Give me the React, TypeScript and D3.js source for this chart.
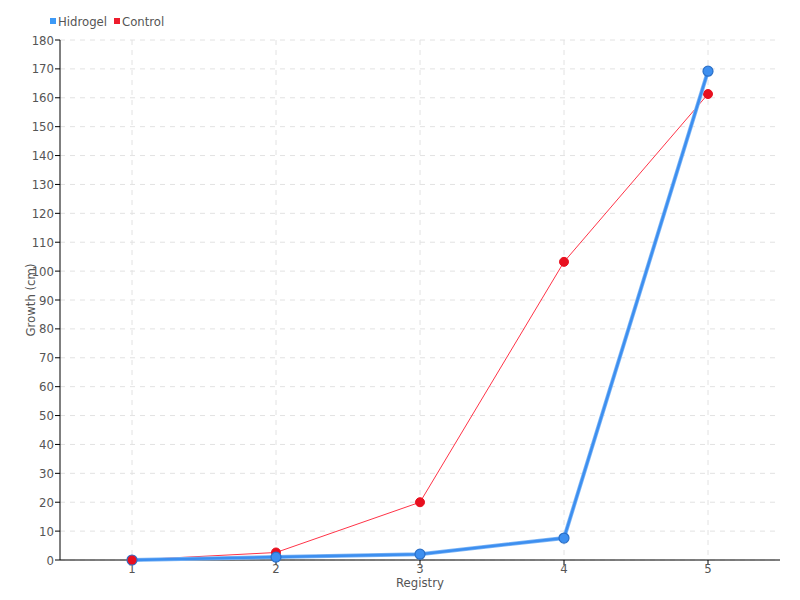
import React from "react";
import * as d3 from "d3";

const registry = [1, 2, 3, 4, 5];
const hidrogel = [0, 1, 2, 7.6, 169.2];
const control = [0, 2.6, 20, 103.2, 161.3];
const yTicks = d3.range(0, 181, 10);
const seriesNames = ["Hidrogel", "Control"];

export default function App() {
  const W = 800, H = 600;
  const m = { left: 60, right: 20, top: 40, bottom: 40 };
  const x = d3.scaleLinear().domain([0.5, 5.5]).range([m.left, W - m.right]);
  const y = d3.scaleLinear().domain([0, 180]).range([H - m.bottom, m.top]);
  const line = d3.line<number>().x((_, i) => x(registry[i])).y((d) => y(d));
  const font = "'DejaVu Sans Condensed', 'Liberation Sans Narrow', sans-serif";
  const txt = "#555";
  return (
    <svg width={W} height={H} style={{ position: "absolute", left: 0, top: 0 }} fontFamily={font}>
      <rect width={W} height={H} fill="#fff" />
      {yTicks.map((t) => (
        <line key={"gy" + t} x1={m.left} x2={W - m.right} y1={y(t)} y2={y(t)} stroke="#e2e2e2" strokeDasharray="5,5" />
      ))}
      {registry.map((r) => (
        <line key={"gx" + r} x1={x(r)} x2={x(r)} y1={m.top} y2={H - m.bottom} stroke="#e2e2e2" strokeDasharray="5,5" />
      ))}
      <line x1={m.left} x2={W - m.right} y1={y(0)} y2={y(0)} stroke="#000" />
      <line x1={m.left} x2={m.left} y1={m.top} y2={y(0)} stroke="#000" />
      {yTicks.map((t) => (
        <g key={"ty" + t}>
          <line x1={m.left - 5} x2={m.left} y1={y(t)} y2={y(t)} stroke="#000" />
          <text x={m.left - 6} y={y(t)} dy="0.35em" textAnchor="end" fontSize={13} fill={txt}>{t}</text>
        </g>
      ))}
      {registry.map((r) => (
        <g key={"tx" + r}>
          <line x1={x(r)} x2={x(r)} y1={y(0)} y2={y(0) + 5} stroke="#000" />
          <text x={x(r)} y={y(0) + 13} textAnchor="middle" fontSize={13} fill={txt}>{r}</text>
        </g>
      ))}
      <text x={(m.left + W - m.right) / 2} y={587} textAnchor="middle" fontSize={13} fill={txt}>Registry</text>
      <text transform={`translate(35,${(m.top + H - m.bottom) / 2}) rotate(-90)`} textAnchor="middle" fontSize={13} fill={txt}>Growth (cm)</text>

      <path d={line(control) || ""} fill="none" stroke="#ff3347" strokeWidth={1} />
      {control.map((v, i) => (
        <circle key={"c" + i} cx={x(registry[i])} cy={y(v)} r={4.5} fill="#e8101f" stroke="#e8101f" />
      ))}
      <path d={line(hidrogel) || ""} fill="none" stroke="#7fb6f5" strokeWidth={4} />
      <path d={line(hidrogel) || ""} fill="none" stroke="#3d8ff0" strokeWidth={2.5} />
      {hidrogel.map((v, i) => (
        <circle key={"h" + i} cx={x(registry[i])} cy={y(v)} r={5} fill="#3d8ff0" stroke="#2a6fc7" strokeWidth={1.2} />
      ))}
      <circle cx={x(1)} cy={y(0)} r={4.5} fill="#e8101f" />

      <g fontSize={13} fill={txt}>
        <rect x={50} y={18} width={6} height={6} fill="#3d9af7" />
        <text x={58} y={21} dy="0.35em">{seriesNames[0]}</text>
        <rect x={114} y={18} width={6} height={6} fill="#ee1c2c" />
        <text x={122} y={21} dy="0.35em">{seriesNames[1]}</text>
      </g>
    </svg>
  );
}
